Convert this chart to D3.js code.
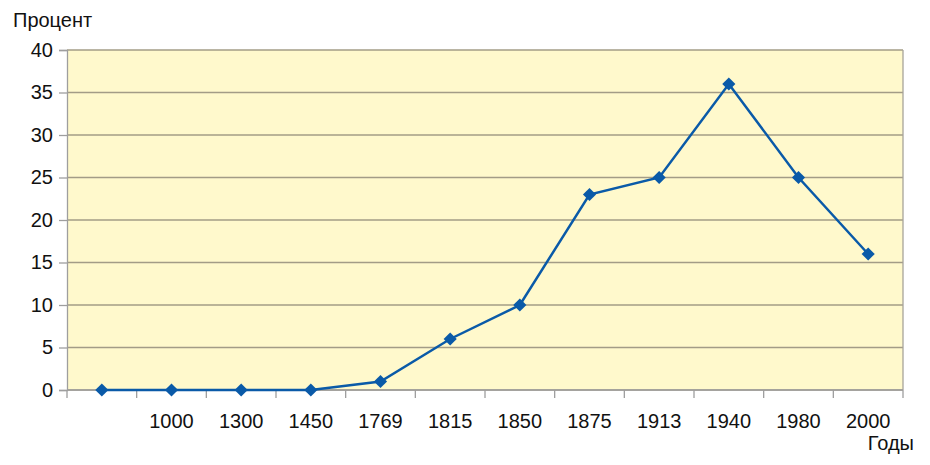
<!DOCTYPE html>
<html>
<head>
<meta charset="utf-8">
<script src="https://cdn.jsdelivr.net/npm/d3@7"></script>
<style>
  body { margin: 0; background: #fff; }
  text { font-family: "Liberation Sans", Arial, sans-serif; }
</style>
</head>
<body>
<script>
// categories (first one has no label)
var years = ["", "1000", "1300", "1450", "1769", "1815", "1850", "1875", "1913", "1940", "1980", "2000"];
var percent = [0, 0, 0, 0, 1, 6, 10, 23, 25, 36, 25, 16];
var yTicks = [0, 5, 10, 15, 20, 25, 30, 35, 40];

var margin = {top: 50, right: 27, bottom: 75, left: 67},
    width = 930 - margin.left - margin.right,
    height = 465 - margin.top - margin.bottom;

var svg = d3.select("body").append("svg")
    .attr("width", 930)
    .attr("height", 465)
  .append("g")
    .attr("transform", "translate(" + margin.left + "," + margin.top + ")");

var x = d3.scaleBand().domain(d3.range(years.length)).range([0, width]);
var y = d3.scaleLinear().domain([0, 40]).range([height, 0]);

// plot background
svg.append("rect")
    .attr("width", width)
    .attr("height", height)
    .style("fill", "#fff9cc");

// horizontal grid lines
svg.selectAll(".grid")
    .data(yTicks)
  .enter().append("line")
    .attr("class", "grid")
    .attr("x1", 0)
    .attr("x2", width)
    .attr("y1", function(d) { return y(d); })
    .attr("y2", function(d) { return y(d); })
    .style("stroke", "#a39c86")
    .style("stroke-width", 1.3);

// right border
svg.append("line")
    .attr("x1", width).attr("x2", width)
    .attr("y1", 0).attr("y2", height)
    .style("stroke", "#a8a49a")
    .style("stroke-width", 1.3);

// y axis
var yAxis = svg.append("g")
    .call(d3.axisLeft(y).tickValues(yTicks).tickSize(8).tickPadding(6));
yAxis.select(".domain").style("stroke", "#9e9e9e").style("stroke-width", 1.3);
yAxis.selectAll(".tick line").style("stroke", "#9e9e9e").style("stroke-width", 1.3);
yAxis.selectAll("text").style("font-size", "20px").style("fill", "#111");

// x axis: ticks at band boundaries, labels at band centers
var bounds = d3.range(years.length + 1).map(function(i) { return i * x.step(); });
var xAxis = svg.append("g")
    .attr("transform", "translate(0," + height + ")");
xAxis.append("line")
    .attr("x1", 0).attr("x2", width)
    .style("stroke", "#9e9e9e").style("stroke-width", 1.3);
xAxis.selectAll(".xtick")
    .data(bounds)
  .enter().append("line")
    .attr("class", "xtick")
    .attr("x1", function(d) { return d; })
    .attr("x2", function(d) { return d; })
    .attr("y1", 0).attr("y2", 8)
    .style("stroke", "#9e9e9e").style("stroke-width", 1.3);
xAxis.selectAll(".xlabel")
    .data(years)
  .enter().append("text")
    .attr("class", "xlabel")
    .attr("x", function(d, i) { return x(i) + x.bandwidth() / 2; })
    .attr("y", 38)
    .attr("text-anchor", "middle")
    .style("font-size", "20px")
    .style("fill", "#111")
    .text(function(d) { return d; });

// line
var line = d3.line()
    .x(function(d, i) { return x(i) + x.bandwidth() / 2; })
    .y(function(d) { return y(d); });

svg.append("path")
    .datum(percent)
    .attr("d", line)
    .style("fill", "none")
    .style("stroke", "#0a5aa8")
    .style("stroke-width", 2.5);

// diamond markers
svg.selectAll(".pt")
    .data(percent)
  .enter().append("path")
    .attr("class", "pt")
    .attr("d", d3.symbol().type(d3.symbolDiamond2).size(110))
    .attr("transform", function(d, i) {
      return "translate(" + (x(i) + x.bandwidth() / 2) + "," + y(d) + ")";
    })
    .style("fill", "#0a5aa8");

// axis titles
svg.append("text")
    .attr("x", 13 - margin.left)
    .attr("y", 27 - margin.top)
    .style("font-size", "20px")
    .style("fill", "#111")
    .text("Процент");

svg.append("text")
    .attr("x", 914 - margin.left)
    .attr("y", 450 - margin.top)
    .attr("text-anchor", "end")
    .style("font-size", "20px")
    .style("fill", "#111")
    .text("Годы");
</script>
</body>
</html>
